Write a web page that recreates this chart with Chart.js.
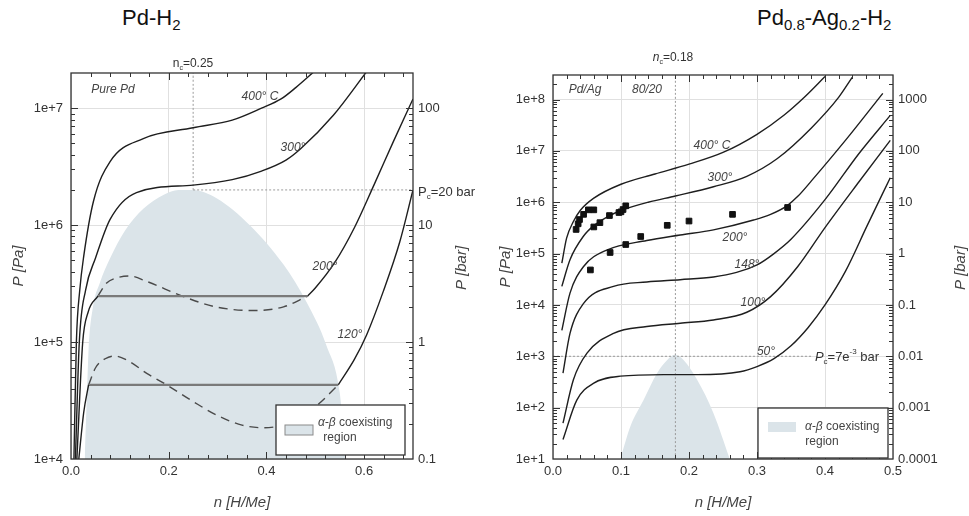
<!DOCTYPE html>
<html>
<head>
<meta charset="utf-8">
<script src="https://cdn.jsdelivr.net/npm/chart.js@4.4.0/dist/chart.umd.min.js"></script>
<style>
  body { margin: 0; background: #fff; width: 969px; height: 516px; overflow: hidden; position: relative;
         font-family: Arial, "Liberation Sans", sans-serif; }
  #left  { position: absolute; left: 0; top: 0; }
  #right { position: absolute; left: 480px; top: 0; }
  .ttl { position: absolute; top: 5px; font-size: 22px; color: #111; }
  .ttl sub { font-size: 15px; }
</style>
</head>
<body>
<div class="ttl" style="left:122px">Pd-H<sub>2</sub></div>
<div class="ttl" style="left:757px">Pd<sub>0.8</sub>-Ag<sub>0.2</sub>-H<sub>2</sub></div>
<canvas id="left" width="480" height="516"></canvas>
<canvas id="right" width="489" height="516"></canvas>

<script>
// ------------------------------------------------------------
//  Data: Pd-H2 (left panel), n [H/Me] vs P [Pa]
// ------------------------------------------------------------
const pdXTicks   = [0, 0.2, 0.4, 0.6];
const pdPaTicks  = [1e4, 1e5, 1e6, 1e7];
const pdBarTicks = [0.1, 1, 10, 100];

const pd400 = [[0.006,1e4],[0.011,1e5],[0.018,2.8e5],[0.026,5.4e5],[0.046,1.6e6],[0.08,3.5e6],
               [0.148,5.5e6],[0.25,6.8e6],[0.33,7.9e6],[0.39,1.0e7],[0.43,1.2e7],[0.46,1.5e7],[0.5,2.1e7]];
const pd300 = [[0.009,1e4],[0.017,1e5],[0.03,2.8e5],[0.05,5.2e5],[0.08,1.12e6],[0.134,1.9e6],
               [0.25,2.2e6],[0.33,2.45e6],[0.39,2.9e6],[0.44,3.6e6],[0.47,4.5e6],[0.537,8.7e6],[0.605,2.05e7]];
const pd200lo   = [[0.012,1e4],[0.024,1e5],[0.035,1.8e5],[0.055,2.47e5]];
const pd200tie  = [[0.055,2.47e5],[0.484,2.47e5]];
const pd200loop = [[0.055,2.47e5],[0.073,3.2e5],[0.09,3.5e5],[0.12,3.67e5],[0.155,3.3e5],[0.23,2.45e5],
                   [0.296,2.0e5],[0.373,1.86e5],[0.435,2.0e5],[0.484,2.47e5]];
const pd200hi   = [[0.484,2.47e5],[0.50,2.9e5],[0.54,4.8e5],[0.58,9.5e5],[0.62,2.2e6],[0.66,5.2e6],[0.7,1.2e7]];
const pd120lo   = [[0.016,1e4],[0.026,2.5e4],[0.036,4.3e4]];
const pd120tie  = [[0.036,4.3e4],[0.547,4.3e4]];
const pd120loop = [[0.036,4.3e4],[0.05,6.0e4],[0.07,7.2e4],[0.09,7.6e4],[0.12,6.8e4],[0.155,5.4e4],[0.196,4.3e4],
                   [0.25,3.1e4],[0.3,2.35e4],[0.35,1.95e4],[0.394,1.85e4],[0.44,2.0e4],[0.5,2.8e4],[0.547,4.3e4]];
const pd120hi   = [[0.547,4.3e4],[0.58,7.1e4],[0.605,1.15e5],[0.639,2.7e5],[0.673,7.2e5],[0.7,2.0e6]];
const pdDome = [[0.028,1e4],[0.033,4.0e4],[0.036,8.7e4],[0.045,2.0e5],[0.059,3.2e5],[0.08,5.2e5],[0.11,8.9e5],
                [0.148,1.38e6],[0.19,1.82e6],[0.22,2.0e6],[0.25,2.0e6],[0.298,1.7e6],[0.366,1.0e6],[0.435,4.6e5],
                [0.482,2.2e5],[0.523,9.3e4],[0.55,3.7e4],[0.558,1.6e4],[0.562,1e4]];
const pdNcLine = [[0.25,2e6],[0.25,2e7]];
const pdPcLine = [[0.25,2e6],[0.7,2e6]];

// ------------------------------------------------------------
//  Data: Pd0.8-Ag0.2-H2 (right panel)
// ------------------------------------------------------------
const agXTicks   = [0, 0.1, 0.2, 0.3, 0.4, 0.5];
const agPaTicks  = [1e1, 1e2, 1e3, 1e4, 1e5, 1e6, 1e7, 1e8];
const agBarTicks = [0.0001, 0.001, 0.01, 0.1, 1, 10, 100, 1000];

const ag400 = [[0.013,6.5e4],[0.02,2.0e5],[0.03,4.2e5],[0.04,6.9e5],[0.06,1.2e6],[0.1,2.24e6],[0.15,3.55e6],
               [0.2,5.5e6],[0.25,9.3e6],[0.3,2.1e7],[0.34,5.0e7],[0.37,1.12e8],[0.40,2.8e8]];
const ag300 = [[0.013,2.3e4],[0.025,7.6e4],[0.045,2.2e5],[0.06,3.5e5],[0.08,5.2e5],[0.1,6.9e5],[0.14,1.0e6],
               [0.18,1.32e6],[0.236,2.0e6],[0.285,3.2e6],[0.33,7.1e6],[0.38,2.8e7],[0.42,1.1e8],[0.44,2.7e8]];
const ag200 = [[0.013,3.2e3],[0.025,1.7e4],[0.045,5.6e4],[0.079,1.17e5],[0.138,1.8e5],[0.187,2.3e5],
               [0.236,2.9e5],[0.295,4.5e5],[0.32,5.8e5],[0.344,8.5e5],[0.36,1.3e6],[0.38,2.6e6],
               [0.43,1.6e7],[0.485,1.32e8]];
const ag148 = [[0.0147,4.7e2],[0.025,2.8e3],[0.045,1.07e4],[0.089,2.3e4],[0.138,2.8e4],[0.187,3.1e4],
               [0.236,3.5e4],[0.27,4.3e4],[0.30,6.0e4],[0.325,1.0e5],[0.35,1.9e5],[0.40,1.12e6],
               [0.45,8.9e6],[0.496,4.9e7]];
const ag100 = [[0.0147,50],[0.03,3.5e2],[0.05,1.15e3],[0.089,2.8e3],[0.138,3.8e3],[0.187,4.4e3],[0.236,5.1e3],
               [0.285,7.2e3],[0.32,1.45e4],[0.36,5.6e4],[0.40,3.2e5],[0.45,2.5e6],[0.496,1.6e7]];
const ag50  = [[0.0147,24],[0.035,1.4e2],[0.06,3.0e2],[0.099,4.1e2],[0.163,4.4e2],[0.212,4.4e2],[0.275,5.0e2],
               [0.30,6.3e2],[0.325,9.0e2],[0.35,1.6e3],[0.375,3.6e3],[0.40,1.0e4],[0.43,4.5e4],
               [0.462,3.5e5],[0.496,3.0e6]];
const agDome = [[0.099,10],[0.114,44],[0.133,1.4e2],[0.153,4.7e2],[0.168,8.5e2],[0.179,1.07e3],[0.192,8.5e2],
                [0.212,3.5e2],[0.236,78],[0.26,10]];
const agPoints = [[0.034,2.95e5],[0.037,3.8e5],[0.039,4.6e5],[0.045,5.8e5],[0.052,7.1e5],[0.060,7.1e5],
                  [0.060,3.3e5],[0.069,4.0e5],[0.083,5.5e5],[0.097,6.3e5],[0.100,6.5e5],[0.103,7.2e5],[0.107,8.5e5],
                  [0.084,1.05e5],[0.107,1.5e5],[0.129,2.15e5],[0.168,3.55e5],[0.200,4.3e5],[0.264,5.8e5],
                  [0.345,7.9e5],[0.055,4.8e4]];
const agNcLine = [[0.18,10],[0.18,3e8]];
const agPcLine = [[0,1e3],[0.38,1e3]];

// ------------------------------------------------------------
const FAM = 'Arial, "Liberation Sans", sans-serif';
Chart.defaults.font.family = FAM;
const DOME = '#dbe4e9';

const pts = arr => arr.map(p => ({ x: p[0], y: p[1] }));

function curve(arr, style) {
  const ds = { data: pts(arr), borderColor: '#1e1e1e', borderWidth: 1.4, pointRadius: 0,
               fill: false, cubicInterpolationMode: 'monotone', order: 1 };
  if (style === 'dash') { ds.borderColor = '#4a4a4a'; ds.borderDash = [9, 6]; }
  if (style === 'tie')  { ds.borderColor = '#7a7a7a'; ds.borderWidth = 2.2; ds.cubicInterpolationMode = 'default'; }
  if (style === 'dot')  { ds.borderColor = '#9a9a9a'; ds.borderWidth = 1; ds.borderDash = [2, 2]; ds.order = 5; }
  return ds;
}
function dome(arr) {
  return { data: pts(arr), borderWidth: 0, backgroundColor: DOME, fill: 'start', pointRadius: 0,
           cubicInterpolationMode: 'monotone', order: 10 };
}

// rich text: parts = [[text, mode]], mode may contain i / sub / sup
function rich(ctx, parts, x, y, size, align, color) {
  const fontOf = m => (m.indexOf('i') >= 0 ? 'italic ' : '') +
    ((m.indexOf('sub') >= 0 || m.indexOf('sup') >= 0) ? Math.round(size * 0.62) : size) + 'px ' + FAM;
  let w = 0;
  parts.forEach(p => { ctx.font = fontOf(p[1]); w += ctx.measureText(p[0]).width; });
  let cx = align === 'center' ? x - w / 2 : (align === 'right' ? x - w : x);
  ctx.fillStyle = color; ctx.textAlign = 'left'; ctx.textBaseline = 'middle';
  parts.forEach(p => {
    ctx.font = fontOf(p[1]);
    const dy = p[1].indexOf('sub') >= 0 ? size * 0.38 : (p[1].indexOf('sup') >= 0 ? -size * 0.38 : 0);
    ctx.fillText(p[0], cx, y + dy);
    cx += ctx.measureText(p[0]).width;
  });
}

const decor = {
  id: 'decor',
  afterDraw(chart, args, o) {
    const ctx = chart.ctx, a = chart.chartArea, xs = chart.scales.x, ys = chart.scales.y;
    ctx.save();
    // frame
    ctx.strokeStyle = '#333'; ctx.lineWidth = 1.3;
    ctx.strokeRect(a.left, a.top, a.right - a.left, a.bottom - a.top);
    // inward ticks
    ctx.lineWidth = 1; ctx.strokeStyle = '#333';
    ctx.beginPath();
    for (let i = 1; i * o.xMinor < xs.max - 1e-9; i++) {
      const v = i * o.xMinor, px = Math.round(xs.getPixelForValue(v)) + 0.5;
      const r = v / o.xMajor, len = Math.abs(r - Math.round(r)) < 1e-6 ? 7 : 4;
      ctx.moveTo(px, a.bottom); ctx.lineTo(px, a.bottom - len);
      ctx.moveTo(px, a.top);    ctx.lineTo(px, a.top + len);
    }
    for (let d = Math.floor(Math.log10(ys.min)); d <= Math.ceil(Math.log10(ys.max)); d++) {
      for (let k = 1; k <= 9; k++) {
        const v = k * Math.pow(10, d);
        if (v <= ys.min * 1.0001 || v >= ys.max) continue;
        const py = Math.round(ys.getPixelForValue(v)) + 0.5, len = k === 1 ? 7 : 4;
        ctx.moveTo(a.left, py);  ctx.lineTo(a.left + len, py);
        ctx.moveTo(a.right, py); ctx.lineTo(a.right - len, py);
      }
    }
    ctx.stroke();
    // legend box
    const L = o.legend;
    ctx.fillStyle = '#fff'; ctx.fillRect(L.x, L.y, L.w, L.h);
    ctx.strokeStyle = '#333'; ctx.lineWidth = 1.3; ctx.strokeRect(L.x, L.y, L.w, L.h);
    ctx.fillStyle = DOME; ctx.fillRect(L.sx, L.sy, 28, 10);
    if (L.sBorder) { ctx.strokeStyle = '#8a8a8a'; ctx.lineWidth = 1; ctx.strokeRect(L.sx, L.sy, 28, 10); }
    rich(ctx, [['\u03b1-\u03b2', 'i'], [' coexisting', '']], L.tx, L.ty, 12, 'left', '#444');
    rich(ctx, [['region', '']], L.rx, L.ty + 15, 12, 'center', '#444');
    // labels
    o.texts.forEach(t => rich(ctx, t.p, t.x, t.y, t.size || 12, t.align || 'center', t.color || '#444'));
    // right axis title, rotated like the left one
    ctx.translate(o.barTitle.x, o.barTitle.y); ctx.rotate(-Math.PI / 2);
    rich(ctx, [['P [bar]', 'i']], 0, 0, 15, 'center', '#444');
    ctx.restore();
  }
};

function makeScales(c) {
  const tickFont = { size: 13 };
  return {
    x: { type: 'linear', min: c.xMin, max: c.xMax,
         afterBuildTicks: s => { s.ticks = c.xTicks.map(v => ({ value: v })); },
         afterFit: s => { s.height = 57; },
         grid: { color: '#e0e0e0', drawTicks: false }, border: { display: false },
         ticks: { padding: 5, color: '#333', font: tickFont, callback: v => v.toFixed(1) },
         title: { display: true, text: 'n [H/Me]', color: '#444', font: { size: 15, style: 'italic' },
                  padding: { top: 0, bottom: 4 } } },
    y: { type: 'logarithmic', position: 'left', min: c.yMin, max: c.yMax,
         afterBuildTicks: s => { s.ticks = c.paTicks.map(v => ({ value: v })); },
         afterFit: s => { s.width = c.leftW; },
         grid: { color: '#e0e0e0', drawTicks: false }, border: { display: false },
         ticks: { padding: 8, color: '#333', font: tickFont, callback: v => v.toExponential(0) },
         title: { display: true, text: 'P [Pa]', color: '#444', font: { size: 15, style: 'italic' },
                  padding: { top: c.yTitlePad, bottom: 0 } } },
    y2: { type: 'logarithmic', position: 'right', min: c.yMin / 1e5, max: c.yMax / 1e5,
          afterBuildTicks: s => { s.ticks = c.barTicks.map(v => ({ value: v })); },
          afterFit: s => { s.width = c.rightW; },
          grid: { display: false, drawTicks: false }, border: { display: false },
          ticks: { padding: 5, color: '#333', font: tickFont, callback: v => String(v) } }
  };
}

function makeChart(id, c, datasets, deco) {
  return new Chart(document.getElementById(id), {
    type: 'line',
    data: { datasets },
    options: {
      responsive: false, animation: false, events: [],
      layout: { padding: { top: c.top, left: 0, right: 0, bottom: 0 } },
      scales: makeScales(c),
      plugins: { legend: { display: false }, tooltip: { enabled: false }, decor: deco }
    },
    plugins: [decor]
  });
}

// ---- left panel ----
makeChart('left',
  { xMin: 0, xMax: 0.7, yMin: 1e4, yMax: 2e7, xTicks: pdXTicks, paTicks: pdPaTicks, barTicks: pdBarTicks,
    leftW: 71, rightW: 67, top: 73, yTitlePad: 10 },
  [
    curve(pd400), curve(pd300),
    curve(pd200lo), curve(pd200tie, 'tie'), curve(pd200loop, 'dash'), curve(pd200hi),
    curve(pd120lo), curve(pd120tie, 'tie'), curve(pd120loop, 'dash'), curve(pd120hi),
    curve(pdNcLine, 'dot'), curve(pdPcLine, 'dot'),
    dome(pdDome)
  ],
  {
    xMinor: 0.04, xMajor: 0.2,
    legend: { x: 276, y: 405, w: 129, h: 50, sx: 285, sy: 425, sBorder: true, tx: 318, ty: 423, rx: 340 },
    barTitle: { x: 462, y: 268 },
    texts: [
      { p: [['Pure Pd', 'i']], x: 113, y: 90 },
      { p: [['400\u00b0 C', 'i']], x: 260, y: 97 },
      { p: [['300\u00b0', 'i']], x: 293, y: 148 },
      { p: [['200\u00b0', 'i']], x: 325, y: 267 },
      { p: [['120\u00b0', 'i']], x: 350, y: 335 },
      { p: [['n', ''], ['c', 'sub'], ['=0.25', '']], x: 193, y: 64, color: '#333' },
      { p: [['P', ''], ['c', 'sub'], ['=20 bar', '']], x: 418, y: 192, size: 13, align: 'left', color: '#333' }
    ]
  });

// ---- right panel ----
const agCurves = [ag400, ag300, ag200, ag148, ag100, ag50].map(a => curve(a));
makeChart('right',
  { xMin: 0, xMax: 0.5, yMin: 10, yMax: 3e8, xTicks: agXTicks, paTicks: agPaTicks, barTicks: agBarTicks,
    leftW: 73, rightW: 76, top: 75, yTitlePad: 17 },
  [
    { data: pts(agPoints), showLine: false, pointStyle: 'rect', pointRadius: 4,
      backgroundColor: '#111', borderColor: '#111', order: 0 },
    ...agCurves,
    curve(agNcLine, 'dot'), curve(agPcLine, 'dot'),
    dome(agDome)
  ],
  {
    xMinor: 0.02, xMajor: 0.1,
    legend: { x: 278, y: 408, w: 130, h: 50, sx: 288, sy: 422, sBorder: false, tx: 325, ty: 427, rx: 342 },
    barTitle: { x: 481, y: 268 },
    texts: [
      { p: [['Pd/Ag', 'i']], x: 105, y: 90 },
      { p: [['80/20', 'i']], x: 167, y: 90 },
      { p: [['400\u00b0 C', 'i']], x: 232, y: 146 },
      { p: [['300\u00b0', 'i']], x: 240, y: 178 },
      { p: [['200\u00b0', 'i']], x: 255, y: 238 },
      { p: [['148\u00b0', 'i']], x: 267, y: 265 },
      { p: [['100\u00b0', 'i']], x: 273, y: 303 },
      { p: [['50\u00b0', 'i']], x: 286, y: 352 },
      { p: [['n', 'i'], ['c', 'sub'], ['=0.18', '']], x: 193, y: 58, color: '#333' },
      { p: [['P', 'i'], ['c', 'sub'], ['=7e', ''], ['-3', 'sup'], [' bar', '']], x: 367, y: 357, size: 13, color: '#333' }
    ]
  });
</script>
</body>
</html>
